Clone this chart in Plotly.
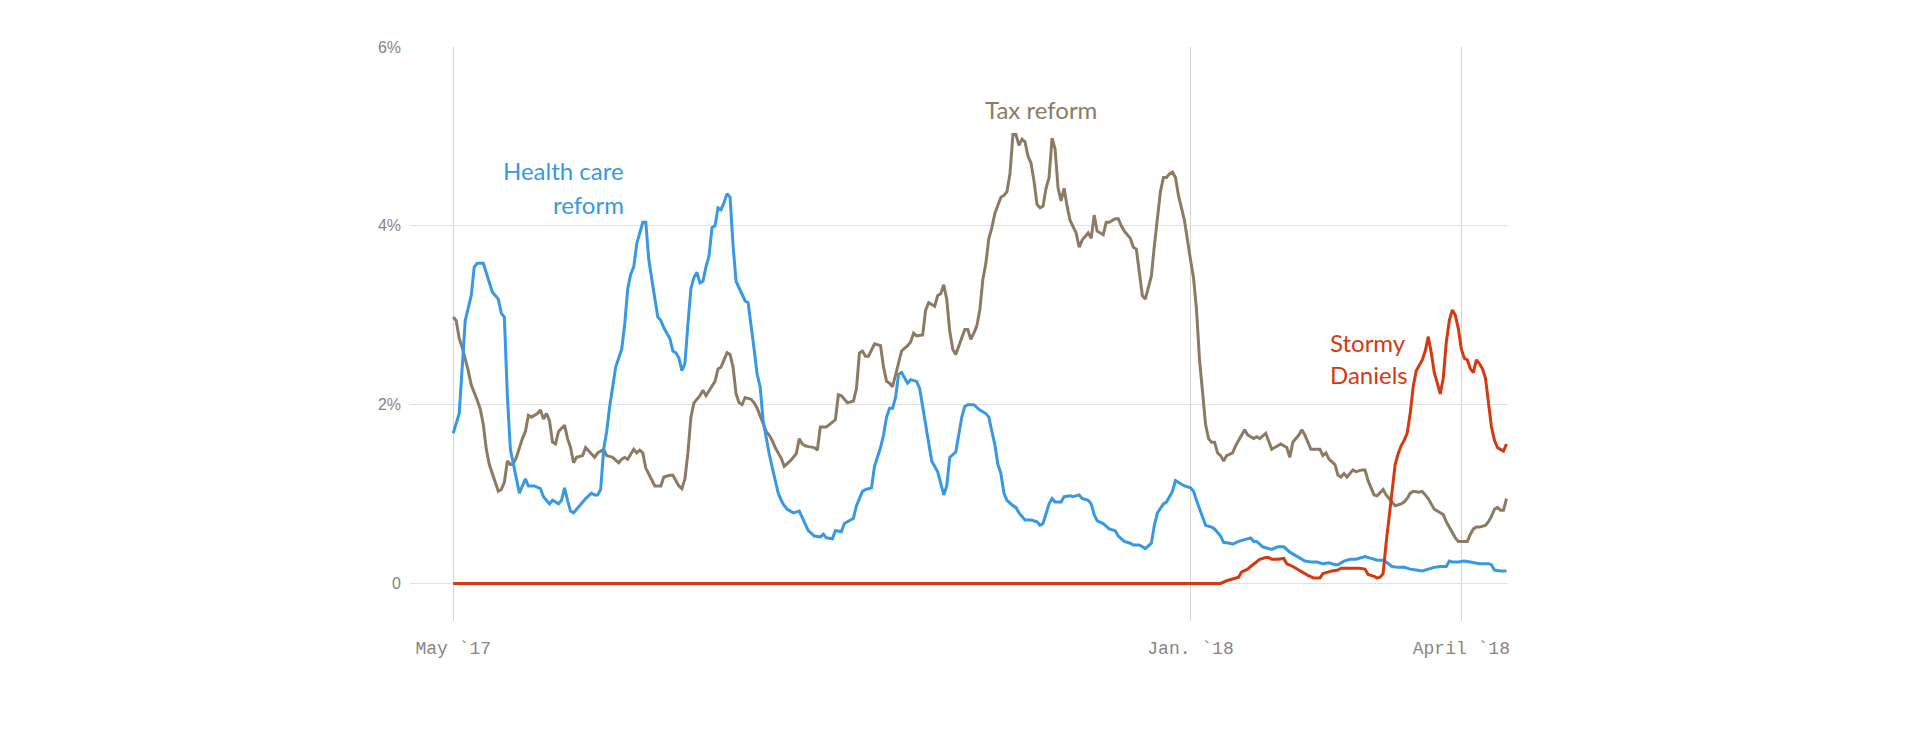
import pandas as pd
import plotly.graph_objects as go

BASE = pd.Timestamp("2017-05-01")

# days since May 1 2017 / share of coverage (%)
health_days = [0, 2, 4, 6, 7, 8, 10, 12, 13, 15, 16, 17, 18, 19, 22, 24, 25, 27, 29, 30,
               32, 33, 35, 36, 37, 38, 39, 40, 42, 44, 46, 47, 48, 49, 50, 51, 52, 53, 54, 56,
               57, 58, 59, 60, 61, 62, 63, 64, 65, 66, 67, 68, 69, 70, 72, 73, 74, 75, 76, 77,
               78, 79, 80, 81, 82, 83, 84, 85, 86, 87, 88, 89, 90, 91, 92, 93, 94, 95, 96, 97,
               98, 99, 100, 101, 102, 103, 104, 105, 106, 107, 108, 109, 110, 111, 113, 115, 116, 117, 118, 120,
               122, 123, 124, 126, 127, 129, 130, 132, 133, 134, 136, 137, 139, 140, 142, 143, 144, 145, 146, 147,
               148, 149, 151, 152, 154, 155, 156, 157, 158, 159, 161, 162, 163, 164, 165, 167, 168, 169, 170, 171,
               173, 175, 177, 178, 179, 180, 181, 182, 183, 184, 186, 187, 188, 190, 192, 194, 195, 196, 198, 199,
               200, 202, 203, 205, 206, 208, 209, 211, 212, 213, 214, 216, 218, 220, 221, 223, 225, 226, 228, 229,
               230, 232, 233, 234, 236, 237, 239, 240, 241, 243, 245, 246, 247, 249, 250, 252, 253, 255, 256, 258,
               259, 261, 263, 265, 266, 267, 269, 271, 272, 274, 276, 278, 280, 281, 283, 285, 287, 289, 291, 293,
               294, 296, 298, 300, 302, 303, 305, 307, 309, 310, 312, 314, 316, 318, 320, 322, 324, 326, 328, 330,
               331, 332, 334, 336, 338, 340, 341, 344, 345, 346, 348, 350]
health_vals = [1.68, 1.90, 2.94, 3.22, 3.54, 3.58, 3.58, 3.38, 3.26, 3.18, 3.02, 2.98, 2.10, 1.50, 1.01, 1.17, 1.09, 1.09, 1.06, 0.97,
               0.89, 0.93, 0.89, 0.93, 1.07, 0.93, 0.81, 0.79, 0.87, 0.95, 1.01, 0.99, 0.99, 1.05, 1.50, 1.70, 1.98, 2.22, 2.42, 2.62,
               2.90, 3.30, 3.46, 3.54, 3.80, 3.92, 4.04, 4.04, 3.62, 3.40, 3.20, 2.98, 2.94, 2.86, 2.74, 2.60, 2.58, 2.52, 2.38, 2.46,
               2.90, 3.30, 3.42, 3.48, 3.36, 3.38, 3.54, 3.66, 3.98, 4.00, 4.20, 4.18, 4.26, 4.36, 4.32, 3.78, 3.38, 3.30, 3.22, 3.16,
               3.14, 2.90, 2.62, 2.34, 2.20, 1.82, 1.62, 1.45, 1.30, 1.17, 1.01, 0.93, 0.87, 0.83, 0.79, 0.81, 0.73, 0.65, 0.59, 0.53,
               0.52, 0.55, 0.51, 0.50, 0.59, 0.58, 0.67, 0.71, 0.73, 0.87, 1.03, 1.05, 1.07, 1.31, 1.52, 1.66, 1.86, 1.96, 1.96, 2.08,
               2.34, 2.36, 2.24, 2.28, 2.26, 2.18, 1.98, 1.78, 1.58, 1.37, 1.25, 1.13, 0.99, 1.09, 1.41, 1.47, 1.66, 1.86, 1.98, 2.00,
               2.00, 1.94, 1.90, 1.86, 1.70, 1.55, 1.33, 1.23, 1.01, 0.93, 0.87, 0.85, 0.79, 0.71, 0.71, 0.69, 0.65, 0.67, 0.89, 0.95,
               0.91, 0.91, 0.97, 0.98, 0.97, 0.99, 0.95, 0.93, 0.89, 0.77, 0.70, 0.67, 0.61, 0.59, 0.53, 0.47, 0.45, 0.43, 0.43, 0.41,
               0.39, 0.45, 0.65, 0.79, 0.89, 0.91, 1.03, 1.15, 1.13, 1.09, 1.07, 1.03, 0.93, 0.75, 0.65, 0.63, 0.61, 0.53, 0.46, 0.45,
               0.44, 0.47, 0.49, 0.51, 0.47, 0.47, 0.41, 0.39, 0.38, 0.41, 0.41, 0.35, 0.31, 0.29, 0.25, 0.24, 0.24, 0.22, 0.23, 0.21,
               0.21, 0.25, 0.27, 0.27, 0.29, 0.30, 0.28, 0.26, 0.26, 0.24, 0.19, 0.18, 0.18, 0.16, 0.15, 0.14, 0.16, 0.18, 0.19, 0.19,
               0.25, 0.24, 0.24, 0.25, 0.24, 0.23, 0.22, 0.22, 0.21, 0.15, 0.14, 0.14]

tax_days = [0, 1, 2, 3, 5, 6, 8, 9, 10, 11, 12, 14, 15, 16, 17, 18, 19, 20, 21, 23,
            24, 25, 26, 28, 29, 30, 31, 32, 33, 34, 35, 37, 38, 39, 40, 41, 43, 44, 45, 47,
            48, 50, 51, 53, 55, 56, 57, 58, 60, 61, 62, 63, 64, 66, 67, 69, 70, 72, 73, 75,
            76, 77, 78, 79, 80, 82, 83, 84, 86, 87, 88, 89, 90, 91, 92, 93, 94, 95, 96, 97,
            99, 100, 101, 102, 103, 104, 105, 106, 107, 108, 109, 110, 111, 112, 114, 115, 116, 117, 118, 120,
            121, 122, 124, 126, 127, 128, 129, 131, 133, 134, 135, 136, 137, 138, 139, 140, 142, 143, 144, 145,
            146, 147, 148, 149, 151, 152, 153, 154, 156, 157, 158, 160, 161, 162, 163, 164, 165, 166, 167, 168,
            170, 171, 172, 173, 174, 175, 176, 177, 178, 179, 180, 182, 183, 184, 185, 186, 187, 188, 189, 190,
            191, 192, 193, 194, 195, 196, 197, 198, 199, 200, 201, 202, 203, 204, 205, 207, 208, 209, 211, 212,
            213, 214, 216, 217, 218, 220, 221, 222, 223, 225, 226, 227, 228, 229, 230, 231, 232, 233, 234, 235,
            236, 237, 238, 239, 240, 241, 243, 244, 245, 246, 247, 248, 249, 250, 251, 252, 253, 254, 255, 256,
            257, 259, 260, 261, 263, 264, 266, 267, 268, 270, 271, 272, 273, 275, 276, 277, 278, 279, 281, 282,
            283, 284, 285, 287, 288, 289, 290, 291, 293, 294, 295, 296, 297, 299, 300, 302, 303, 304, 305, 306,
            307, 308, 309, 310, 312, 313, 315, 316, 317, 318, 319, 321, 322, 324, 325, 326, 328, 329, 330, 332,
            333, 334, 335, 337, 338, 339, 340, 341, 343, 344, 345, 346, 347, 348, 349, 350]
tax_vals = [2.98, 2.94, 2.74, 2.64, 2.38, 2.22, 2.05, 1.95, 1.78, 1.50, 1.33, 1.13, 1.03, 1.05, 1.13, 1.37, 1.33, 1.34, 1.41, 1.62,
            1.70, 1.88, 1.86, 1.90, 1.94, 1.84, 1.90, 1.82, 1.58, 1.56, 1.70, 1.77, 1.62, 1.52, 1.35, 1.41, 1.43, 1.52, 1.48, 1.41,
            1.46, 1.50, 1.43, 1.41, 1.35, 1.39, 1.41, 1.39, 1.50, 1.46, 1.49, 1.46, 1.29, 1.15, 1.09, 1.09, 1.19, 1.21, 1.21, 1.09,
            1.06, 1.17, 1.46, 1.86, 2.02, 2.10, 2.16, 2.10, 2.20, 2.26, 2.40, 2.42, 2.50, 2.58, 2.56, 2.42, 2.12, 2.02, 2.00, 2.08,
            2.06, 2.02, 1.96, 1.88, 1.79, 1.70, 1.66, 1.60, 1.52, 1.46, 1.40, 1.31, 1.34, 1.37, 1.45, 1.62, 1.56, 1.54, 1.53, 1.52,
            1.49, 1.75, 1.75, 1.81, 1.83, 2.11, 2.10, 2.02, 2.04, 2.18, 2.58, 2.60, 2.54, 2.54, 2.62, 2.68, 2.66, 2.42, 2.26, 2.24,
            2.20, 2.34, 2.46, 2.60, 2.66, 2.70, 2.80, 2.77, 2.78, 3.06, 3.14, 3.10, 3.22, 3.24, 3.34, 3.18, 2.82, 2.62, 2.56, 2.66,
            2.84, 2.84, 2.73, 2.80, 2.88, 3.06, 3.40, 3.58, 3.86, 3.98, 4.14, 4.32, 4.34, 4.38, 4.58, 5.02, 5.02, 4.90, 4.97, 4.94,
            4.78, 4.70, 4.50, 4.24, 4.20, 4.22, 4.42, 4.54, 4.98, 4.86, 4.42, 4.28, 4.42, 4.22, 4.06, 3.92, 3.76, 3.84, 3.92, 3.86,
            4.12, 3.94, 3.90, 4.04, 4.04, 4.08, 4.08, 4.00, 3.94, 3.86, 3.76, 3.74, 3.46, 3.22, 3.18, 3.30, 3.44, 3.78, 4.10, 4.38,
            4.54, 4.54, 4.58, 4.60, 4.54, 4.34, 4.06, 3.82, 3.62, 3.42, 3.06, 2.50, 2.10, 1.78, 1.62, 1.58, 1.58, 1.46, 1.43, 1.37,
            1.43, 1.46, 1.54, 1.60, 1.72, 1.66, 1.62, 1.64, 1.62, 1.68, 1.60, 1.50, 1.52, 1.56, 1.54, 1.52, 1.41, 1.58, 1.66, 1.72,
            1.66, 1.58, 1.50, 1.50, 1.50, 1.43, 1.46, 1.39, 1.33, 1.21, 1.19, 1.23, 1.19, 1.27, 1.25, 1.27, 1.27, 1.15, 1.07, 0.99,
            0.98, 1.01, 1.05, 0.99, 0.91, 0.87, 0.89, 0.91, 0.95, 1.01, 1.03, 1.02, 1.03, 0.95, 0.89, 0.83, 0.79, 0.77, 0.69, 0.57,
            0.51, 0.47, 0.47, 0.47, 0.55, 0.61, 0.63, 0.63, 0.65, 0.69, 0.75, 0.83, 0.85, 0.82, 0.82, 0.95]

stormy_days = [0, 255, 257, 259, 261, 262, 264, 265, 267, 268, 270, 271, 272, 274, 276, 277, 279, 281, 283, 284,
               286, 288, 289, 290, 292, 294, 295, 297, 299, 301, 303, 304, 306, 307, 308, 309, 310, 311, 312, 313,
               314, 315, 316, 317, 318, 319, 320, 321, 322, 323, 324, 325, 326, 327, 328, 329, 330, 331, 332, 333,
               334, 335, 336, 337, 338, 339, 340, 341, 342, 343, 344, 345, 346, 347, 348, 349, 350]
stormy_vals = [0, 0, 0.03, 0.05, 0.07, 0.13, 0.16, 0.19, 0.24, 0.27, 0.29, 0.29, 0.27, 0.27, 0.28, 0.22, 0.19, 0.15, 0.11, 0.09,
               0.06, 0.06, 0.11, 0.12, 0.14, 0.15, 0.17, 0.17, 0.17, 0.17, 0.16, 0.10, 0.08, 0.06, 0.07, 0.11, 0.45, 0.75, 1.10, 1.33,
               1.45, 1.54, 1.60, 1.68, 1.90, 2.20, 2.38, 2.44, 2.50, 2.60, 2.76, 2.58, 2.36, 2.24, 2.12, 2.30, 2.70, 2.94, 3.06, 3.00,
               2.85, 2.62, 2.52, 2.50, 2.40, 2.36, 2.50, 2.46, 2.40, 2.30, 2.05, 1.75, 1.60, 1.52, 1.50, 1.48, 1.56]

tick_dates = ["2017-05-01", "2018-01-01", "2018-04-01"]
tick_labels = ["May `17", "Jan. `18", "April `18"]
y_ticks = [0, 2, 4, 6]
y_labels = ["0", "2%", "4%", "6%"]

BLUE = "#3798e4"
BROWN = "#8c7b63"
RED = "#d4390f"


def to_dates(days):
    return BASE + pd.to_timedelta(days, unit="D")


fig = go.Figure()
for days, vals, color in [(tax_days, tax_vals, BROWN),
                          (health_days, health_vals, BLUE),
                          (stormy_days, stormy_vals, RED)]:
    fig.add_trace(go.Scatter(x=to_dates(days), y=vals, mode="lines",
                             line=dict(color=color, width=3), hoverinfo="skip"))


def day(d):
    return BASE + pd.Timedelta(days=d)


labels = [
    ("Health care", 57.4, 4.62, "right", BLUE),
    ("reform", 57.4, 4.24, "right", BLUE),
    ("Tax reform", 176.1, 5.30, "left", BROWN),
    ("Stormy", 290.7, 2.70, "left", RED),
    ("Daniels", 290.7, 2.34, "left", RED),
]
for text, d, yv, anchor, color in labels:
    fig.add_annotation(x=day(d), y=yv, text=text, showarrow=False,
                       xanchor=anchor, yanchor="middle",
                       font=dict(family="Lato", size=24, color=color))

# page body has an 8px margin, so the plot area is shifted back by it
fig.update_layout(
    width=1920, height=740,
    margin=dict(l=402, r=420, t=39, b=127),
    paper_bgcolor="white", plot_bgcolor="white",
    showlegend=False,
    xaxis=dict(range=[day(-14.35), day(350.5)], tickvals=tick_dates, ticktext=tick_labels,
               showgrid=True, gridcolor="#d4d4d4", gridwidth=1, zeroline=False,
               showline=False, ticks="", ticklabelstandoff=14,
               tickfont=dict(family="Liberation Mono", size=18, color="#858585")),
    yaxis=dict(range=[-0.42, 6], tickvals=y_ticks, ticktext=y_labels,
               showgrid=True, gridcolor="#e2e2e2", gridwidth=1.3, zeroline=False,
               showline=False, ticks="", ticklabelstandoff=8,
               tickfont=dict(family="Liberation Sans", size=16, color="#858585")),
)

fig.write_html("out.html")
